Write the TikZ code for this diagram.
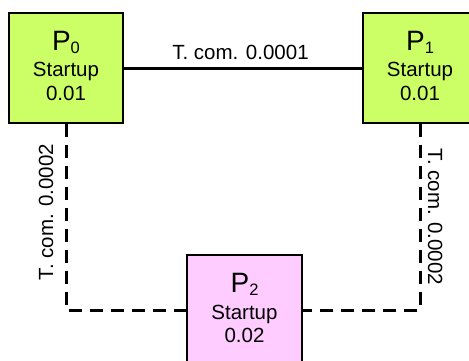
\documentclass[tikz,border=0pt]{standalone}
\usepackage{fontspec}
\setmainfont{Liberation Sans}
\definecolor{boxgreen}{HTML}{CCFF66}
\definecolor{boxpink}{HTML}{FFCCFF}
\tikzset{
  pbox/.style={draw=black, line width=1.2pt, minimum width=114pt, minimum height=110pt, inner sep=0pt},
  big/.style={font=\fontsize{28}{28}\selectfont, anchor=base, inner sep=0pt},
  small/.style={font=\fontsize{20.5}{20.5}\selectfont, anchor=base, inner sep=0pt},
  solidlink/.style={line width=3pt},
  dashlink/.style={line width=3pt, dash pattern=on 13pt off 8pt},
}
\newcommand{\procname}[1]{P\raisebox{-3.5pt}{\fontsize{16.5}{16.5}\selectfont #1}}
\begin{document}
\begin{tikzpicture}[x=1pt,y=1pt]
\useasboundingbox (0,0) rectangle (469,360);
\clip (0,0) rectangle (469,360);
% boxes
\node[pbox, fill=boxgreen] (p0) at (66,292) {};
\node[pbox, fill=boxgreen] (p1) at (420,292) {};
\node[pbox, fill=boxpink, minimum width=115pt] (p2) at (244.5,50) {};
% texts
\node[big] (p0a) at ([yshift=-38pt]p0.north) {\procname{0}};
\node[small] (p0b) at ([yshift=-64pt]p0.north) {Startup};
\node[small] (p0c) at ([yshift=-88pt]p0.north) {0.01};
\node[big] (p1a) at ([yshift=-38pt]p1.north) {\procname{1}};
\node[small] (p1b) at ([yshift=-64pt]p1.north) {Startup};
\node[small] (p1c) at ([yshift=-88pt]p1.north) {0.01};
\node[big] (p2a) at ([yshift=-38pt]p2.north) {\procname{2}};
\node[small] (p2b) at ([yshift=-65pt]p2.north) {Startup};
\node[small] (p2c) at ([yshift=-88pt]p2.north) {0.02};
% connectors
\draw[solidlink] (p0) -- (p1);
\node[small] (l01) at (240.5,301) {T. com. 0.0001};
\draw[dashlink] (p0.south) |- (p2.west);
\draw[dashlink] (p1.south) |- (p2.east);
\node[small, rotate=90] (l02) at (53,148) {T. com. 0.0002};
\node[small, rotate=-90] (l12) at (428,143) {T. com. 0.0002};
\end{tikzpicture}
\end{document}
